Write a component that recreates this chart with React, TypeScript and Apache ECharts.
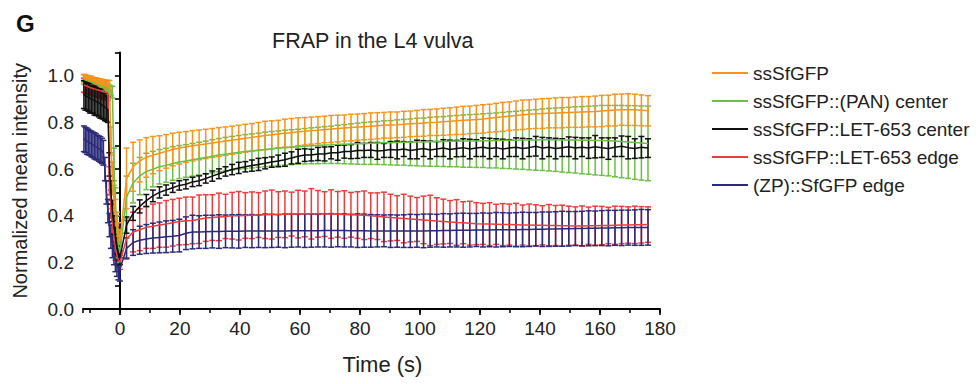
import React, { useEffect, useRef } from "react";
import * as echarts from "echarts";

// time points (s): pre-bleach, bleach, recovery
const T = [
  -12, -11.5, -11, -10.5, -10, -9.5, -9, -8.5, -8, -7.5, -7, -6.5, -6, -5.5, -5, -4.5, -4,
  -3.5, -3, -2.5, -2, -1.5, -1, -0.5,
  0, 2.2, 4.4, 6.6, 8.8, 11, 13.2, 15.4, 17.6, 19.8,
  22, 24.2, 26.4, 28.6, 30.8, 33, 35.2, 37.4, 39.6, 41.8,
  44, 46.2, 48.4, 50.6, 52.8, 55, 57.2, 59.4, 61.6, 63.8,
  66, 68.2, 70.4, 72.6, 74.8, 77, 79.2, 81.4, 83.6, 85.8,
  88, 90.2, 92.4, 94.6, 96.8, 99, 101.2, 103.4, 105.6, 107.8,
  110, 112.2, 114.4, 116.6, 118.8, 121, 123.2, 125.4, 127.6, 129.8,
  132, 134.2, 136.4, 138.6, 140.8, 143, 145.2, 147.4, 149.6, 151.8,
  154, 156.2, 158.4, 160.6, 162.8, 165, 167.2, 169.4, 171.6, 173.8,
  176,
];

const orangeMean = [
  0.99, 0.99, 0.985, 0.985, 0.98, 0.982, 0.978, 0.976, 0.975, 0.975, 0.972, 0.97, 0.97, 0.968, 0.966, 0.965, 0.964,
  0.96, 0.72, 0.56, 0.47, 0.41, 0.36, 0.32,
  0.29, 0.56, 0.61, 0.635, 0.65, 0.66, 0.668, 0.676, 0.684, 0.69,
  0.695, 0.7, 0.704, 0.708, 0.712, 0.716, 0.72, 0.724, 0.728, 0.732,
  0.736, 0.74, 0.744, 0.747, 0.75, 0.754, 0.756, 0.76, 0.762, 0.765,
  0.767, 0.77, 0.772, 0.774, 0.776, 0.778, 0.78, 0.782, 0.784, 0.786,
  0.788, 0.789, 0.79, 0.792, 0.794, 0.796, 0.798, 0.8, 0.801, 0.803,
  0.805, 0.807, 0.809, 0.811, 0.813, 0.815, 0.818, 0.821, 0.824, 0.827,
  0.83, 0.833, 0.835, 0.837, 0.838, 0.84, 0.841, 0.842, 0.843, 0.844,
  0.845, 0.846, 0.847, 0.849, 0.851, 0.853, 0.855, 0.855, 0.854, 0.852,
  0.85,
];
const orangeErr = [
  0.016, 0.015, 0.016, 0.015, 0.014, 0.016, 0.015, 0.015, 0.016, 0.014, 0.015, 0.016, 0.015, 0.015, 0.016, 0.015, 0.016,
  0.02, 0.06, 0.07, 0.06, 0.06, 0.055, 0.05,
  0.05, 0.13, 0.105, 0.09, 0.085, 0.08, 0.075, 0.072, 0.07, 0.068,
  0.066, 0.065, 0.064, 0.063, 0.062, 0.062, 0.061, 0.06, 0.06, 0.06,
  0.059, 0.06, 0.061, 0.06, 0.059, 0.06, 0.061, 0.06, 0.059, 0.058,
  0.058, 0.057, 0.058, 0.057, 0.056, 0.057, 0.056, 0.056, 0.057, 0.056,
  0.055, 0.056, 0.055, 0.056, 0.055, 0.056, 0.057, 0.056, 0.057, 0.058,
  0.058, 0.059, 0.06, 0.059, 0.06, 0.061, 0.06, 0.061, 0.062, 0.061,
  0.062, 0.063, 0.062, 0.063, 0.064, 0.063, 0.064, 0.065, 0.064, 0.065,
  0.066, 0.065, 0.066, 0.067, 0.066, 0.068, 0.067, 0.068, 0.067, 0.066,
  0.065,
];

const greenMean = [
  0.985, 0.982, 0.98, 0.977, 0.975, 0.972, 0.97, 0.967, 0.965, 0.962, 0.96, 0.957, 0.955, 0.952, 0.95, 0.947, 0.945,
  0.94, 0.935, 0.93, 0.62, 0.45, 0.34, 0.27,
  0.24, 0.48, 0.54, 0.57, 0.59, 0.6, 0.61, 0.616, 0.624, 0.63,
  0.635, 0.64, 0.645, 0.65, 0.655, 0.66, 0.664, 0.668, 0.672, 0.675,
  0.678, 0.681, 0.684, 0.687, 0.69, 0.692, 0.694, 0.696, 0.698, 0.7,
  0.701, 0.703, 0.704, 0.706, 0.707, 0.708, 0.709, 0.71, 0.711, 0.712,
  0.713, 0.713, 0.714, 0.715, 0.715, 0.716, 0.716, 0.717, 0.718, 0.718,
  0.719, 0.72, 0.72, 0.721, 0.721, 0.722, 0.722, 0.723, 0.723, 0.724,
  0.724, 0.725, 0.725, 0.725, 0.726, 0.726, 0.726, 0.725, 0.725, 0.725,
  0.724, 0.724, 0.723, 0.723, 0.722, 0.72, 0.718, 0.716, 0.714, 0.712,
  0.71,
];
const greenErr = [
  0.02, 0.021, 0.02, 0.022, 0.02, 0.021, 0.02, 0.022, 0.021, 0.02, 0.022, 0.021, 0.02, 0.021, 0.022, 0.02, 0.021,
  0.02, 0.02, 0.025, 0.07, 0.07, 0.06, 0.05,
  0.04, 0.09, 0.085, 0.08, 0.078, 0.076, 0.074, 0.073, 0.072, 0.071,
  0.07, 0.07, 0.07, 0.07, 0.071, 0.071, 0.072, 0.072, 0.072, 0.073,
  0.073, 0.073, 0.074, 0.074, 0.074, 0.075, 0.075, 0.075, 0.076, 0.077,
  0.078, 0.079, 0.08, 0.082, 0.084, 0.086, 0.088, 0.09, 0.091, 0.092,
  0.094, 0.095, 0.097, 0.098, 0.1, 0.102, 0.103, 0.105, 0.106, 0.107,
  0.109, 0.11, 0.112, 0.113, 0.114, 0.115, 0.117, 0.118, 0.12, 0.122,
  0.124, 0.126, 0.128, 0.13, 0.132, 0.134, 0.136, 0.138, 0.14, 0.142,
  0.144, 0.146, 0.148, 0.15, 0.151, 0.153, 0.155, 0.156, 0.158, 0.159,
  0.16,
];

const blackMean = [
  0.92, 0.915, 0.912, 0.908, 0.905, 0.9, 0.898, 0.894, 0.89, 0.888, 0.884, 0.88, 0.875, 0.87, 0.866, 0.86, 0.855,
  0.62, 0.5, 0.42, 0.36, 0.31, 0.27, 0.24,
  0.22, 0.36, 0.41, 0.44, 0.465, 0.485, 0.5, 0.51, 0.52, 0.53,
  0.535, 0.545, 0.55, 0.56, 0.57, 0.58, 0.59, 0.598, 0.605, 0.61,
  0.615, 0.62, 0.625, 0.63, 0.635, 0.64, 0.648, 0.655, 0.66, 0.66,
  0.665, 0.665, 0.67, 0.67, 0.675, 0.675, 0.68, 0.68, 0.682, 0.678,
  0.68, 0.684, 0.682, 0.686, 0.68, 0.684, 0.688, 0.682, 0.686, 0.69,
  0.684, 0.688, 0.692, 0.686, 0.69, 0.694, 0.688, 0.692, 0.686, 0.69,
  0.694, 0.688, 0.692, 0.698, 0.69, 0.694, 0.688, 0.692, 0.696, 0.69,
  0.694, 0.69, 0.696, 0.692, 0.688, 0.694, 0.698, 0.692, 0.688, 0.694,
  0.69,
];
const blackErr = [
  0.06, 0.062, 0.058, 0.06, 0.064, 0.06, 0.058, 0.062, 0.06, 0.058, 0.06, 0.062, 0.058, 0.056, 0.058, 0.055, 0.055,
  0.05, 0.05, 0.045, 0.04, 0.04, 0.035, 0.03,
  0.03, 0.035, 0.03, 0.028, 0.026, 0.025, 0.024, 0.022, 0.02, 0.02,
  0.02, 0.02, 0.021, 0.02, 0.022, 0.021, 0.02, 0.022, 0.024, 0.022,
  0.024, 0.026, 0.024, 0.022, 0.025, 0.028, 0.026, 0.03, 0.027, 0.025,
  0.028, 0.03, 0.026, 0.032, 0.028, 0.03, 0.034, 0.03, 0.032, 0.036,
  0.03, 0.034, 0.038, 0.032, 0.036, 0.04, 0.034, 0.038, 0.032, 0.036,
  0.04, 0.035, 0.038, 0.042, 0.036, 0.04, 0.044, 0.038, 0.042, 0.036,
  0.04, 0.044, 0.038, 0.042, 0.046, 0.04, 0.044, 0.038, 0.042, 0.046,
  0.04, 0.044, 0.048, 0.042, 0.046, 0.04, 0.044, 0.048, 0.042, 0.046,
  0.04,
];

const redMean = [
  0.96, 0.958, 0.955, 0.953, 0.95, 0.948, 0.946, 0.944, 0.942, 0.94, 0.938, 0.936, 0.934, 0.932, 0.93, 0.928, 0.925,
  0.55, 0.45, 0.37, 0.31, 0.26, 0.23, 0.21,
  0.2, 0.3, 0.33, 0.34, 0.35, 0.355, 0.36, 0.365, 0.37, 0.375,
  0.378, 0.38, 0.385, 0.39, 0.392, 0.395, 0.397, 0.4, 0.4, 0.401,
  0.402, 0.403, 0.404, 0.405, 0.405, 0.406, 0.407, 0.407, 0.408, 0.408,
  0.408, 0.407, 0.407, 0.406, 0.405, 0.404, 0.403, 0.402, 0.4, 0.398,
  0.395, 0.392, 0.39, 0.388, 0.386, 0.384, 0.382, 0.38, 0.377, 0.375,
  0.373, 0.371, 0.37, 0.368, 0.366, 0.365, 0.364, 0.363, 0.362, 0.362,
  0.361, 0.36, 0.36, 0.359, 0.359, 0.358, 0.358, 0.357, 0.357, 0.356,
  0.356, 0.357, 0.357, 0.358, 0.358, 0.359, 0.36, 0.36, 0.361, 0.361,
  0.362,
];
const redErr = [
  0.03, 0.032, 0.03, 0.028, 0.03, 0.031, 0.03, 0.029, 0.03, 0.032, 0.03, 0.028, 0.03, 0.031, 0.03, 0.03, 0.03,
  0.06, 0.06, 0.06, 0.05, 0.05, 0.04, 0.03,
  0.03, 0.08, 0.085, 0.09, 0.09, 0.095, 0.095, 0.1, 0.1, 0.1,
  0.102, 0.1, 0.104, 0.1, 0.098, 0.102, 0.095, 0.1, 0.104, 0.098,
  0.1, 0.096, 0.102, 0.105, 0.098, 0.1, 0.094, 0.102, 0.098, 0.108,
  0.1, 0.096, 0.104, 0.098, 0.102, 0.096, 0.1, 0.104, 0.098, 0.1,
  0.106, 0.1, 0.096, 0.104, 0.098, 0.094, 0.102, 0.108, 0.1, 0.096,
  0.092, 0.098, 0.09, 0.094, 0.09, 0.088, 0.092, 0.086, 0.09, 0.088,
  0.092, 0.086, 0.09, 0.088, 0.084, 0.09, 0.086, 0.088, 0.084, 0.082,
  0.086, 0.08, 0.084, 0.082, 0.078, 0.082, 0.08, 0.078, 0.08, 0.078,
  0.076,
];

const navyMean = [
  0.73, 0.725, 0.72, 0.716, 0.712, 0.708, 0.704, 0.7, 0.696, 0.692, 0.688, 0.684, 0.678, 0.67, 0.6, 0.5, 0.42,
  0.36, 0.31, 0.27, 0.24, 0.21, 0.19, 0.175,
  0.17, 0.26, 0.285, 0.295, 0.3, 0.304, 0.307, 0.31, 0.312, 0.315,
  0.325, 0.33, 0.33, 0.331, 0.332, 0.332, 0.333, 0.333, 0.333, 0.334,
  0.334, 0.334, 0.335, 0.335, 0.335, 0.335, 0.336, 0.336, 0.336, 0.336,
  0.336, 0.337, 0.337, 0.337, 0.337, 0.336, 0.336, 0.336, 0.335, 0.335,
  0.335, 0.334, 0.334, 0.334, 0.335, 0.335, 0.335, 0.336, 0.336, 0.337,
  0.337, 0.338, 0.338, 0.338, 0.339, 0.339, 0.339, 0.34, 0.34, 0.34,
  0.34, 0.341, 0.341, 0.342, 0.342, 0.343, 0.343, 0.344, 0.344, 0.345,
  0.345, 0.346, 0.346, 0.347, 0.347, 0.348, 0.348, 0.349, 0.349, 0.35,
  0.35,
];
const navyErr = [
  0.055, 0.054, 0.056, 0.055, 0.053, 0.055, 0.054, 0.056, 0.055, 0.053, 0.054, 0.055, 0.054, 0.053, 0.05, 0.05, 0.05,
  0.05, 0.05, 0.05, 0.05, 0.05, 0.05, 0.05,
  0.05, 0.045, 0.055, 0.06, 0.062, 0.064, 0.066, 0.068, 0.068, 0.07,
  0.07, 0.072, 0.07, 0.071, 0.07, 0.072, 0.07, 0.071, 0.072, 0.07,
  0.071, 0.07, 0.072, 0.071, 0.07, 0.072, 0.071, 0.07, 0.072, 0.071,
  0.07, 0.071, 0.072, 0.07, 0.071, 0.07, 0.072, 0.071, 0.07, 0.069,
  0.068, 0.07, 0.069, 0.07, 0.071, 0.07, 0.072, 0.071, 0.07, 0.072,
  0.071, 0.072, 0.073, 0.072, 0.071, 0.073, 0.072, 0.074, 0.073, 0.072,
  0.073, 0.074, 0.073, 0.072, 0.074, 0.073, 0.074, 0.075, 0.074, 0.073,
  0.074, 0.075, 0.074, 0.075, 0.076, 0.075, 0.076, 0.075, 0.076, 0.077,
  0.076,
];

const legendNames = [
  "ssSfGFP",
  "ssSfGFP::(PAN) center",
  "ssSfGFP::LET-653 center",
  "ssSfGFP::LET-653 edge",
  "(ZP)::SfGFP edge",
];

const FONT = '"Liberation Sans", Arial, Helvetica, sans-serif';

export default function App() {
  const ref = useRef<HTMLDivElement>(null);

  useEffect(() => {
    if (!ref.current) return;
    const chart = echarts.init(ref.current, undefined, { renderer: "svg" });

    // drawing order: red, navy, green, orange, black
    const groups = [
      { name: legendNames[3], color: "#EF3B3B", mean: redMean, err: redErr },
      { name: legendNames[4], color: "#2A2A78", mean: navyMean, err: navyErr },
      { name: legendNames[1], color: "#6DBE45", mean: greenMean, err: greenErr },
      { name: legendNames[0], color: "#F7941E", mean: orangeMean, err: orangeErr },
      { name: legendNames[2], color: "#111111", mean: blackMean, err: blackErr },
    ];

    const series: any[] = [];
    groups.forEach((g) => {
      const color = g.color;
      series.push({
        type: "custom",
        name: g.name + " error",
        silent: true,
        data: T.map((t, i) => [t, g.mean[i], g.err[i]]),
        encode: { x: 0, y: 1 },
        renderItem: (params: any, api: any) => {
          const t = api.value(0);
          const m = api.value(1);
          const e = api.value(2);
          const top = api.coord([t, m + e]);
          const bot = api.coord([t, m - e]);
          const hw = 3;
          const style = { stroke: color, lineWidth: 1.5 };
          return {
            type: "group",
            children: [
              { type: "line", shape: { x1: top[0], y1: top[1], x2: bot[0], y2: bot[1] }, style },
              { type: "line", shape: { x1: top[0] - hw, y1: top[1], x2: top[0] + hw, y2: top[1] }, style },
              { type: "line", shape: { x1: bot[0] - hw, y1: bot[1], x2: bot[0] + hw, y2: bot[1] }, style },
            ],
          };
        },
      });
      series.push({
        type: "line",
        name: g.name,
        data: T.map((t, i) => [t, g.mean[i]]),
        symbol: "none",
        lineStyle: { color, width: 1.5 },
        itemStyle: { color },
      });
    });

    const option: any = {
      animation: false,
      backgroundColor: "#ffffff",
      textStyle: { fontFamily: FONT },
      title: [
        {
          text: "G",
          left: 11,
          top: 6,
          textStyle: { fontFamily: FONT, fontSize: 24, fontWeight: "bold", color: "#111" },
        },
        {
          text: "FRAP in the L4 vulva",
          left: 267,
          top: 25,
          textStyle: { fontFamily: FONT, fontSize: 21.5, fontWeight: "normal", color: "#222" },
        },
      ],
      legend: {
        data: legendNames,
        orient: "vertical",
        left: 712,
        top: 63.5,
        padding: 0,
        itemWidth: 36,
        itemHeight: 2,
        itemGap: 9,
        icon: "rect",
        textStyle: { fontFamily: FONT, fontSize: 19, color: "#222", lineHeight: 19 },
        selectedMode: false,
      },
      grid: { left: 83, top: 52.5, width: 577, height: 256.5 },
      xAxis: [
        {
          type: "value",
          position: "bottom",
          min: -12.3,
          max: 180,
          splitNumber: 10,
          minInterval: 20,
          maxInterval: 20,
          axisLine: { show: true, onZero: false, lineStyle: { color: "#000", width: 2 } },
          axisTick: { show: true, length: 6, lineStyle: { color: "#000", width: 1.6 } },
          axisLabel: {
            showMinLabel: false,
            fontFamily: FONT,
            fontSize: 19,
            color: "#222",
            margin: 10,
          },
          splitLine: { show: false },
          name: "Time (s)",
          nameLocation: "middle",
          nameGap: 44,
          nameTextStyle: { fontFamily: FONT, fontSize: 22, color: "#222", padding: [0, 0, 0, 22] },
        },
        {
          type: "value",
          position: "bottom",
          min: -12.3,
          max: 180,
          splitNumber: 19,
          minInterval: 10,
          maxInterval: 10,
          axisLine: { show: false, onZero: false },
          axisTick: { show: true, length: 4, lineStyle: { color: "#000", width: 1.5 } },
          axisLabel: { show: false },
          splitLine: { show: false },
        },
      ],
      yAxis: {
        type: "value",
        min: 0,
        max: 1.1,
        interval: 0.1,
        axisLine: { show: true, lineStyle: { color: "#000", width: 2 } },
        axisTick: { show: true, length: 5, lineStyle: { color: "#000", width: 1.6 } },
        axisLabel: {
          fontFamily: FONT,
          fontSize: 19,
          color: "#222",
          margin: 9,
          formatter: (v: number) => {
            const k = Math.round(v * 10);
            return k % 2 === 0 && k <= 10 ? (k / 10).toFixed(1) : "";
          },
        },
        splitLine: { show: false },
        name: "Normalized mean intensity",
        nameLocation: "middle",
        nameGap: 53,
        nameTextStyle: { fontFamily: FONT, fontSize: 20, color: "#222" },
      },
      series,
    };

    chart.setOption(option);
    return () => chart.dispose();
  }, []);

  return (
    <div
      ref={ref}
      style={{ position: "fixed", left: 0, top: 0, width: 979, height: 384, background: "#fff" }}
    />
  );
}
